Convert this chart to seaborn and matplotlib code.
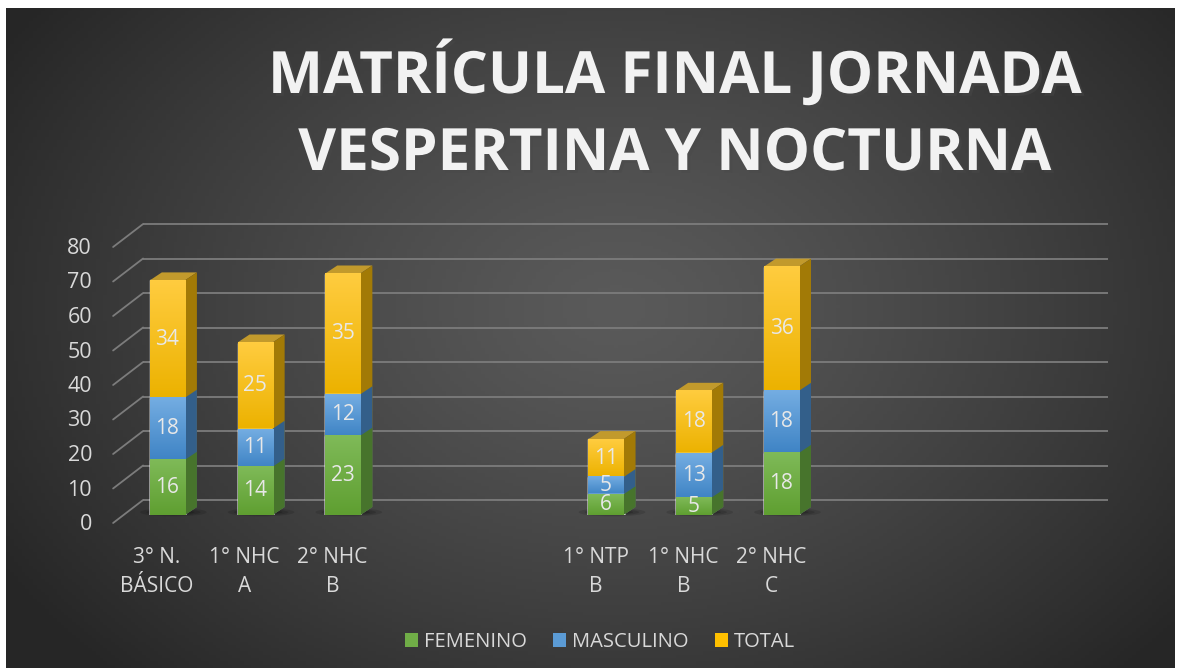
import numpy as np
import pandas as pd
import matplotlib.pyplot as plt
import seaborn as sns
from matplotlib.patches import Polygon, Patch, Ellipse
from matplotlib.colors import LinearSegmentedColormap, to_rgb
import matplotlib.patheffects as pe

# data
grupos = ['3° N.\nBÁSICO', '1° NHC\nA', '2° NHC\nB', '1° NTP\nB', '1° NHC\nB', '2° NHC\nC']
femenino = [16, 14, 23, 6, 5, 18]
masculino = [18, 11, 12, 5, 13, 18]
total = [34, 25, 35, 11, 18, 36]
# empty slots of the original category axis
orden = ['3° N.\nBÁSICO', '1° NHC\nA', '2° NHC\nB', ' ', '  ',
         '1° NTP\nB', '1° NHC\nB', '2° NHC\nC', '   ', '    ', '     ']
y_ticks = [0, 10, 20, 30, 40, 50, 60, 70, 80]
series = ['FEMENINO', 'MASCULINO', 'TOTAL']

df = pd.DataFrame({'grupo': grupos, 'FEMENINO': femenino,
                   'MASCULINO': masculino, 'TOTAL': total})
df['tope_fem'] = df['FEMENINO']
df['tope_masc'] = df['FEMENINO'] + df['MASCULINO']
df['tope_total'] = df['tope_masc'] + df['TOTAL']
df['base_fem'] = 0
df['base_masc'] = df['tope_fem']
df['base_total'] = df['tope_masc']

W, H = 1177, 671
sns.set_theme(style='white')
plt.rcParams['font.family'] = ['Open Sans', 'DejaVu Sans']

fig = plt.figure(figsize=(W / 100, H / 100), dpi=100, facecolor='white')

# dark radial background
bg = fig.add_axes([6 / W, 3 / H, 1169 / W, 660 / H], zorder=-5)
gx, gy = np.meshgrid(np.linspace(0, 1169, 300), np.linspace(0, 660, 200))
r = np.sqrt(((gx - 610) / 720) ** 2 + ((gy - 300) / 520) ** 2)
r = np.clip(r, 0, 1) ** 1.25
c0, c1 = np.array(to_rgb('#5a5a5a')), np.array(to_rgb('#262626'))
img = c0[None, None, :] * (1 - r[..., None]) + c1[None, None, :] * r[..., None]
bg.imshow(img, aspect='auto', extent=[0, 1, 0, 1], origin='upper')
bg.set_axis_off()

ax = fig.add_axes([123.5 / W, (H - 515) / H, 965 / W, 276 / H])
ax.set_facecolor('none')

estilos = {
    'TOTAL': dict(col='tope_total', base='base_total', top='#ffcc3f', bot='#ecb200',
                  side='#a27a06', cap='#c29a2c'),
    'MASCULINO': dict(col='tope_masc', base='base_masc', top='#74ade2', bot='#3f84c5',
                      side='#335f8a', cap=None),
    'FEMENINO': dict(col='tope_fem', base='base_fem', top='#7fba58', bot='#5f9f31',
                     side='#47742c', cap=None),
}

px_x = 965 / 11
px_y = 276 / 80
dx, dy = 12 / px_x, 8 / px_y          # depth of the bars
bx, by = 19.6 / px_x, 15 / px_y       # back wall offset
fx, fy = 10.4 / px_x, 8 / px_y        # front edge offset

# back wall gridlines with the slanted side
for v in y_ticks:
    ax.plot([-0.5 + bx, 10.5 + bx], [v + by, v + by], color='#7c7c7c', lw=1.3,
            zorder=0.5, clip_on=False, solid_capstyle='butt')
    ax.plot([-0.5 - fx, -0.5 + bx], [v - fy, v + by], color='#7c7c7c', lw=1.3,
            zorder=0.5, clip_on=False)
    ax.text(-0.5 - fx - 21 / px_x, v - fy - 1.5 / px_y, str(v), ha='right', va='center',
            fontsize=15.5, color='#d9d9d9')

grad = np.linspace(0, 1, 64)[:, None]
for i, nombre in enumerate(['TOTAL', 'MASCULINO', 'FEMENINO']):
    e = estilos[nombre]
    n0 = len(ax.patches)
    sns.barplot(data=df, x='grupo', y=e['col'], order=orden, color=e['top'],
                saturation=1, width=0.4, errorbar=None, ax=ax, zorder=2 + i)
    cmap = LinearSegmentedColormap.from_list(nombre, [e['bot'], e['top']])
    for p in ax.patches[n0:]:
        t = p.get_height()
        if not np.isfinite(t) or t <= 0:
            continue
        x0, w = p.get_x(), p.get_width()
        fila = df[df['grupo'] == orden[int(round(x0 + w / 2))]].iloc[0]
        b = fila[e['base']]
        if nombre == 'TOTAL':
            for k, a in enumerate([0.12, 0.14, 0.18]):
                ax.add_patch(Ellipse((x0 + w / 2 + dx / 2, dy * 0.35), w * (1.9 - 0.35 * k),
                                     2.4 - 0.6 * k, color='black', alpha=a, lw=0,
                                     zorder=1, clip_on=False))
            ax.add_patch(Polygon([(x0, t), (x0 + w, t), (x0 + w + dx, t + dy), (x0 + dx, t + dy)],
                                 closed=True, color=e['cap'], lw=0, zorder=2 + i, clip_on=False))
        ax.add_patch(Polygon([(x0 + w, 0), (x0 + w + dx, dy), (x0 + w + dx, t + dy), (x0 + w, t)],
                             closed=True, color=e['side'], lw=0, zorder=2 + i, clip_on=False))
        ax.imshow(grad, extent=[x0, x0 + w, b, t], origin='lower', cmap=cmap,
                  aspect='auto', zorder=2 + i + 0.5, interpolation='bilinear')
        ax.text(x0 + w / 2, (b + t) / 2, str(int(fila[nombre])), ha='center', va='center',
                fontsize=15, color='#e8e8e8', zorder=10)

ax.set_xlim(-0.5, 10.5)
ax.set_ylim(0, 80)
ax.set_yticks([])
ax.set_xticks([])
# category labels sit on the front edge of the floor
for k, etiqueta in enumerate(orden):
    ax.text(k - fx, -fy - 24 / px_y, etiqueta.strip(), ha='center', va='top',
            fontsize=15, color='#d9d9d9', linespacing=1.5, clip_on=False)
ax.set_xlabel('')
ax.set_ylabel('')
for s in ax.spines.values():
    s.set_visible(False)

sombra = [pe.SimplePatchShadow(offset=(2, -2), alpha=0.45), pe.Normal()]
fig.text(675 / W, 1 - 93 / H, 'MATRÍCULA FINAL JORNADA', ha='center', va='baseline',
         fontsize=42, fontweight='bold', color='#f2f2f2', path_effects=sombra)
fig.text(675 / W, 1 - 170 / H, 'VESPERTINA Y NOCTURNA', ha='center', va='baseline',
         fontsize=42, fontweight='bold', color='#f2f2f2', path_effects=sombra)

handles = [Patch(facecolor=c, edgecolor='none', label=l)
           for c, l in zip(['#70ad47', '#5b9bd5', '#ffc000'], series)]
fig.legend(handles=handles, loc='center', bbox_to_anchor=(600 / W, 1 - 642 / H), ncol=3,
           frameon=False, fontsize=14.5, labelcolor='#d9d9d9', handlelength=0.65,
           handleheight=0.65, handletextpad=0.3, columnspacing=1.3)

fig.savefig('out.png', dpi=100, facecolor='white')
